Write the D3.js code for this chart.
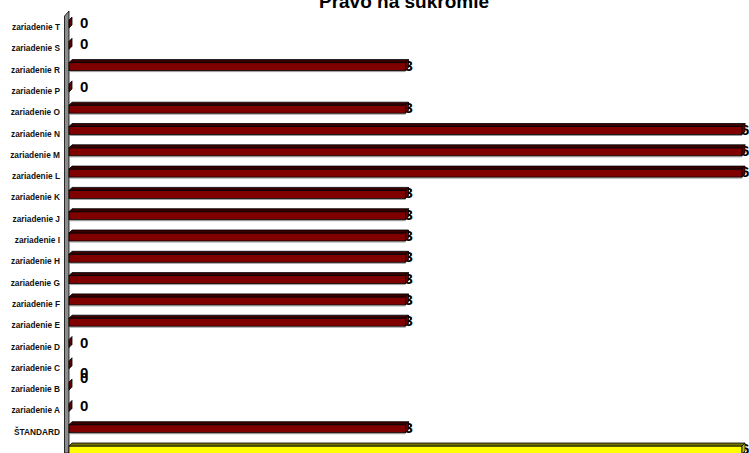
<!DOCTYPE html>
<html>
<head>
<meta charset="utf-8">
<script src="https://cdn.jsdelivr.net/npm/d3@7"></script>
<style>
  html, body { margin: 0; padding: 0; background: #fff; }
  svg { display: block; }
</style>
</head>
<body>
<svg id="chart" width="749" height="453"></svg>
<script>
// Rows from top to bottom
const categories = [
  "zariadenie T", "zariadenie S", "zariadenie R", "zariadenie P", "zariadenie O",
  "zariadenie N", "zariadenie M", "zariadenie L", "zariadenie K", "zariadenie J",
  "zariadenie I", "zariadenie H", "zariadenie G", "zariadenie F", "zariadenie E",
  "zariadenie D", "zariadenie C", "zariadenie B", "zariadenie A", "ŠTANDARD", ""
];
const values = [0, 0, 3, 0, 3, 6, 6, 6, 3, 3, 3, 3, 3, 3, 3, 0, 0, 0, 0, 3, 6];
const barColors = [
  "#800000", "#800000", "#800000", "#800000", "#800000", "#800000", "#800000",
  "#800000", "#800000", "#800000", "#800000", "#800000", "#800000", "#800000",
  "#800000", "#800000", "#800000", "#800000", "#800000", "#800000", "#ffff00"
];
const title = "Právo na súkromie";

const svg = d3.select("#chart");
const rows = categories.map((c, i) => ({ key: i, name: c, value: values[i], color: barColors[i] }));

const x = d3.scaleLinear().domain([0, 6]).range([69, 742]);
const y = d3.scalePoint().domain(rows.map(d => d.key)).range([23, 449]);

// depth of the 3D extrusion
const dx = 3, dy = -3;

// Title
svg.append("text")
  .attr("x", 404).attr("y", 8)
  .attr("text-anchor", "middle")
  .attr("font-family", "Liberation Sans, Arial, sans-serif")
  .attr("font-weight", "bold")
  .attr("font-size", 19)
  .attr("fill", "#000")
  .text(title);

// Category axis labels
svg.append("g")
  .selectAll("text")
  .data(rows)
  .join("text")
  .attr("x", 60)
  .attr("y", d => y(d.key) + 7)
  .attr("text-anchor", "end")
  .attr("font-family", "Liberation Sans, Arial, sans-serif")
  .attr("font-weight", "bold")
  .attr("font-size", 8.3)
  .attr("fill", "#111")
  .text(d => d.name);

// Side wall of the plot
const wallX0 = 64.5, wallX1 = 69;
svg.append("path")
  .attr("d", `M${wallX0},16 L${wallX1},11 L${wallX1},453 L${wallX0},453 Z`)
  .attr("fill", "#8c8c8c")
  .attr("stroke", "#000")
  .attr("stroke-width", 0.8);

// Overlapping labels of neighbouring zero rows are nudged apart
const labelNudge = { 16: 9, 17: -7 };

// Value labels (drawn before the bars so the bar end caps sit over them)
svg.append("g")
  .selectAll("text")
  .data(rows)
  .join("text")
  .attr("x", d => x(d.value) + (d.value === 0 ? 11 : -1))
  .attr("y", d => y(d.key) + 5 + (labelNudge[d.key] || 0))
  .attr("font-family", "Liberation Sans, Arial, sans-serif")
  .attr("font-weight", "bold")
  .attr("font-size", 15)
  .attr("fill", "#000")
  .text(d => d.value);

// Bars with a simple 3D look: front face, top face, end cap
const bars = svg.append("g").selectAll("g").data(rows).join("g");

bars.filter(d => d.value > 0).append("line")
  .attr("x1", x(0)).attr("x2", d => x(d.value))
  .attr("y1", d => y(d.key) + 6).attr("y2", d => y(d.key) + 6)
  .attr("stroke", "#9a9a9a").attr("stroke-width", 1);

bars.filter(d => d.value > 0).append("rect")
  .attr("x", x(0))
  .attr("y", d => y(d.key) - 3)
  .attr("width", d => x(d.value) - x(0))
  .attr("height", 8)
  .attr("fill", d => d.color)
  .attr("stroke", "#000").attr("stroke-width", 0.8);

bars.filter(d => d.value > 0).append("path")
  .attr("d", d => {
    const c = y(d.key), x0 = x(0), x1 = x(d.value);
    return `M${x0},${c - 3} L${x0 + dx},${c - 3 + dy} L${x1 + dx},${c - 3 + dy} L${x1},${c - 3} Z`;
  })
  .attr("fill", d => d3.color(d.color).darker(2.2))
  .attr("stroke", "#000").attr("stroke-width", 0.8);

bars.append("path")
  .attr("d", d => {
    const c = y(d.key), x1 = x(d.value);
    return `M${x1},${c - 3} L${x1 + dx},${c - 3 + dy} L${x1 + dx},${c + 5 + dy} L${x1},${c + 5} Z`;
  })
  .attr("fill", d => d3.color(d.color).darker(0.8))
  .attr("stroke", "#000").attr("stroke-width", 0.8);
</script>
</body>
</html>
